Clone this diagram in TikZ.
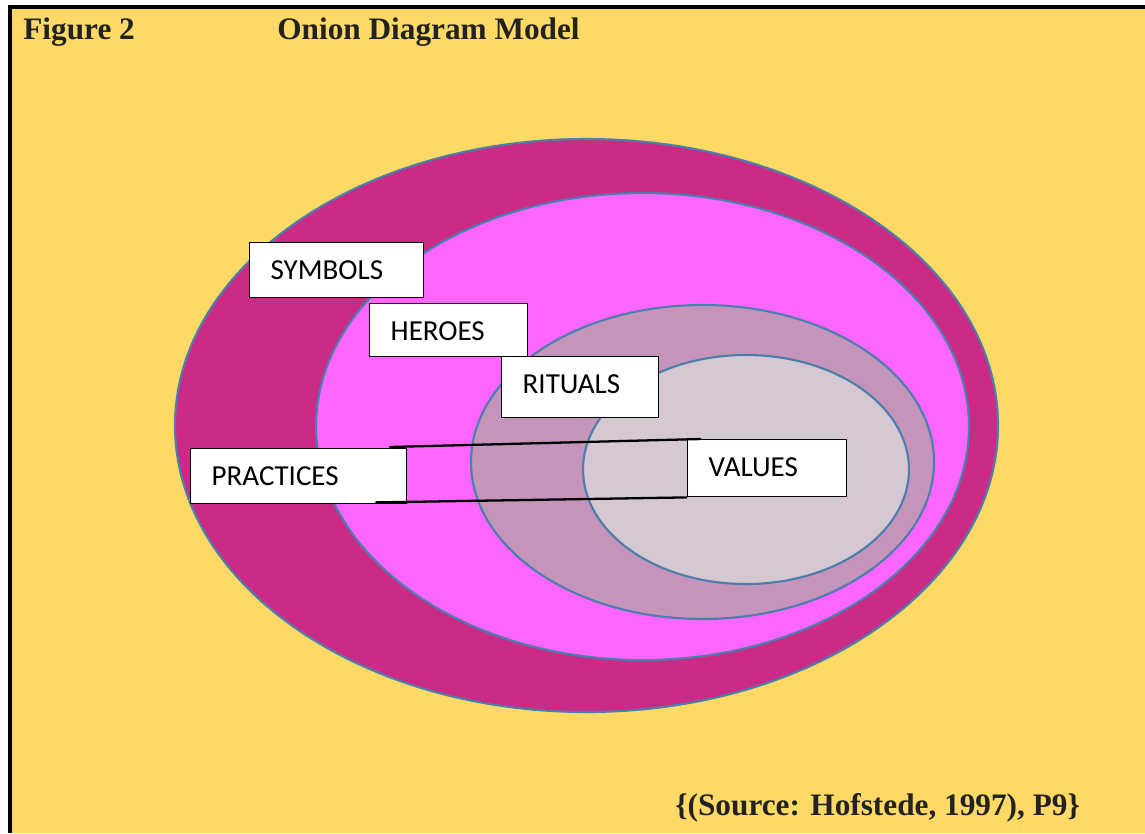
\documentclass[tikz,border=0pt]{standalone}
\usepackage{fontspec}
\setmainfont{Liberation Serif}
\newfontfamily\boxfont{Carlito}
\usepackage{tikz}
\usetikzlibrary{positioning}

\definecolor{bgyellow}{HTML}{FFD966}
\definecolor{ringouter}{HTML}{CC2A87}
\definecolor{ringpink}{HTML}{FF66FF}
\definecolor{ringmauve}{HTML}{C594BA}
\definecolor{ringcore}{HTML}{D5C8D2}
\definecolor{ringline}{HTML}{4A7EAB}
\definecolor{titletext}{HTML}{222222}

\begin{document}
\begin{tikzpicture}[
        x=0.02cm, y=-0.02cm,
        ring/.style={draw=ringline, line width=1.2pt},
        lbl/.style={rectangle, draw=black, fill=white, line width=0.8pt, anchor=north west, inner xsep=0.42cm, inner ysep=0.2cm, text height=0.54cm, align=left, font=\boxfont\fontsize{16.5}{20}\selectfont},
        heading/.style={anchor=base west, inner sep=0pt, text=titletext, font=\bfseries\fontsize{17.8}{22}\selectfont},
        link/.style={draw=black, line width=1.3pt}
    ]
        \useasboundingbox (0,0) rectangle (1145,833);
        \fill[white] (0,0) rectangle (1145,833);
        \fill[bgyellow] (10,7) rectangle (1145,833);
        \draw[black, line width=2.3pt] (10,833) -- (10,7) -- (1145,7);

        % Headings
        \node[heading] (fig) at (23,39.5) {Figure 2};
        \node[heading] (title) at (277,39.5) {Onion Diagram Model};
        \node[heading] (source) at (675,815) {\{(Source: Hofstede, 1997), P9\}};

        % Rings
        \draw[ring, fill=ringouter] (586.5,425.5) ellipse [x radius=411.5, y radius=286.5];
        \draw[ring, fill=ringpink] (642.5,426.5) ellipse [x radius=326.5, y radius=233.5];
        \draw[ring, fill=ringmauve] (702.5,462) ellipse [x radius=231.5, y radius=157];
        \draw[ring, fill=ringcore] (746,469.5) ellipse [x radius=163, y radius=114.5];

        % Labels
        \node[lbl, text width=2.64cm, text depth=0.16cm] (symbols) at (249,242) {SYMBOLS};
        \node[lbl, text width=2.32cm, text depth=0.12cm] (heroes) at (369,303) {HEROES};
        \node[lbl, text width=2.30cm, text depth=0.28cm] (rituals) at (501,356) {RITUALS};
        \node[lbl, text width=3.48cm, text depth=0.16cm] (practices) at (190,448) {PRACTICES};
        \node[lbl, text width=2.34cm, text depth=0.20cm] (values) at (687,439) {VALUES};

        % Practices to values
        \draw[link] ([xshift=-0.36cm, yshift=0.02cm]practices.north east) -- ([xshift=0.28cm]values.north west);
        \draw[link] ([xshift=-0.64cm, yshift=0.04cm]practices.south east) -- (values.south west);

    \end{tikzpicture}
\end{document}
